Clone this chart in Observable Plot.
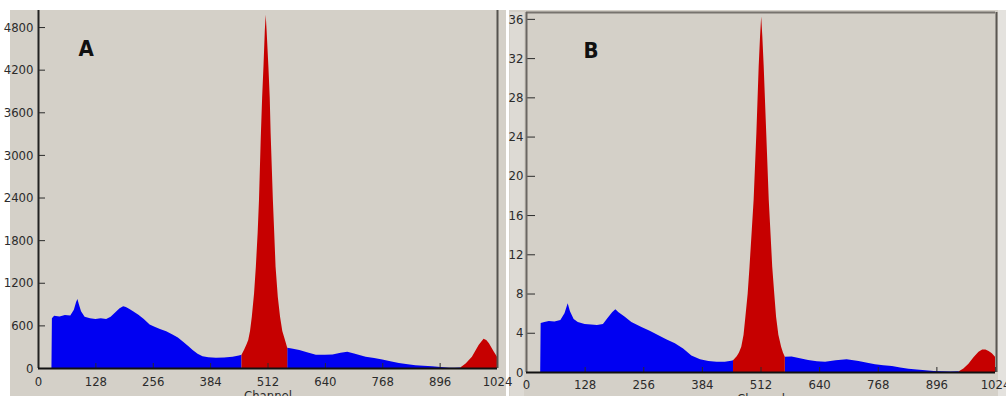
<!DOCTYPE html>
<html><head><meta charset="utf-8">
<script src="https://cdn.jsdelivr.net/npm/d3@7"></script>
<script src="https://cdn.jsdelivr.net/npm/@observablehq/plot@0.6"></script>
<style>
body{margin:0;background:#fff;width:1006px;height:396px;overflow:hidden;position:relative;font-family:"Liberation Sans Narrow","DejaVu Sans Condensed","Liberation Sans",Arial,sans-serif}
.bg{position:absolute}
#a,#b{position:absolute;top:0}
#a{left:0;z-index:2}
#b{left:500px;z-index:1}
</style></head><body>
<div class="bg" style="left:10px;top:10px;width:496px;height:386px;background:#d4d0c8"></div>
<div class="bg" style="left:509px;top:10px;width:497px;height:386px;background:#d4d0c8"></div>
<div class="bg" style="left:510px;top:12px;width:14px;height:384px;background:#dddad4"></div>
<div class="bg" style="left:998px;top:10px;width:8px;height:386px;background:#e4e2de"></div>
<div id="a"></div><div id="b"></div>
<script>
const channelTicks = [0,128,256,384,512,640,768,896,1024];
const countTicksA = [0,600,1200,1800,2400,3000,3600,4200,4800];
const countTicksB = [0,4,8,12,16,20,24,28,32,36];
const panelLabels = ["A","B"];
const xLabel = "Channel";

// Panel A: [channel, count]
const aBlueLow = [[30,0],[31,700],[36,735],[48,725],[60,745],[72,740],[80,820],[85,930],[88,970],[91,900],[96,800],[104,720],[116,700],[128,690],[140,700],[152,690],[162,720],[172,780],[182,840],[190,870],[196,860],[204,830],[212,800],[224,750],[236,690],[249,612],[260,580],[272,550],[286,516],[300,470],[312,430],[323,373],[335,310],[345,253],[356,200],[367,167],[380,150],[397,143],[415,148],[434,158],[448,175],[454,185]];
const aRedMain = [[454,185],[460,260],[465,330],[469,394],[473,520],[477,723],[482,1050],[486,1427],[490,1900],[493,2366],[497,3250],[500,3800],[503,4244],[506,4750],[508,4972],[510,4750],[514,4244],[517,3800],[519,3306],[524,2366],[527,1900],[530,1427],[535,1000],[540,723],[545,520],[551,394],[556,285]];
const aBlueHigh = [[556,285],[566,275],[583,253],[600,220],[620,185],[640,185],[657,191],[675,215],[690,230],[705,205],[731,158],[750,140],[768,120],[786,95],[805,72],[825,52],[842,38],[860,30],[879,24],[898,14],[917,5],[930,3],[942,6]];
const aRedHigh = [[942,6],[954,62],[968,158],[983,325],[994,411],[1000,395],[1006,349],[1017,230],[1024,158]];

// Panel B: [channel, count]
const bBlueLow = [[31,0],[32,5.0],[40,5.1],[50,5.2],[62,5.15],[75,5.3],[84,6.0],[91,7.0],[96,6.2],[104,5.4],[113,5.1],[128,4.9],[142,4.85],[155,4.8],[168,4.9],[178,5.5],[188,6.1],[195,6.4],[202,6.1],[215,5.65],[230,5.1],[252,4.6],[270,4.2],[288,3.78],[306,3.35],[325,2.93],[343,2.4],[361,1.67],[380,1.3],[398,1.12],[416,1.05],[434,1.05],[448,1.15],[452,1.2]];
const bRedMain = [[452,1.2],[460,1.6],[465,2.0],[470,2.58],[475,3.8],[479,5.64],[484,8.0],[488,10.74],[493,14.5],[497,17.55],[503,24.36],[508,31.15],[511,34.2],[513.5,36.25],[516,34.2],[519,31.15],[524.5,24.36],[530,17.55],[534,14.0],[537.6,10.74],[542,8.0],[546,5.64],[551,3.8],[557,2.58],[561,2.0],[565,1.56]];
const bBlueHigh = [[565,1.56],[580,1.58],[598,1.4],[616,1.22],[635,1.1],[653,1.05],[676,1.2],[700,1.3],[726,1.13],[745,0.95],[762,0.8],[780,0.7],[799,0.6],[817,0.45],[835,0.34],[853,0.25],[872,0.17],[890,0.1],[908,0.07],[927,0.06],[945,0.07]];
const bRedHigh = [[945,0.07],[955,0.35],[966,0.85],[977,1.5],[988,2.07],[996,2.3],[1003,2.3],[1010,2.15],[1017,1.9],[1024,1.56]];

const BLUE = "#0000f2", RED = "#c60000", INK = "#2b2b2b";

function panel(o) {
  const plotW = o.width - o.ml - o.mr, plotH = o.height - o.mt - o.mb;
  const area = (d, fill) => Plot.areaY(d, {x: p => p[0], y: p => p[1], fill});
  const marks = [
    ...o.blue.map(d => area(d, BLUE)),
    ...o.red.map(d => area(d, RED)),
    Plot.ruleX(channelTicks, {stroke: INK, strokeWidth: 1, insetTop: plotH - 5}),
    Plot.ruleY(o.ticks, {stroke: INK, strokeWidth: 1, insetRight: plotW - o.tickLen}),
    Plot.axisX({ticks: channelTicks, tickSize: 0, tickPadding: o.padX, tickFormat: "d", fontSize: 13, fill: INK}),
    Plot.axisY({ticks: o.ticks, tickSize: 0, tickPadding: o.padY, tickFormat: "d", fontSize: 13, fill: INK}),
  ];
  if (o.frame) {
    marks.push(Plot.ruleY([o.yMax], {stroke: "#77736e", strokeWidth: 2}));
    marks.push(Plot.ruleX([1024], {stroke: "#5a5652", strokeWidth: 2, dx: 1}));
    marks.push(Plot.ruleX([0], {stroke: "#6a6662", strokeWidth: 2}));
  } else {
    marks.push(Plot.ruleX([1024], {stroke: "#55524e", strokeWidth: 2}));
    marks.push(Plot.ruleX([0], {stroke: "#222", strokeWidth: 2}));
  }
  marks.push(Plot.ruleY([0], {stroke: "#111", strokeWidth: 2}));
  marks.push(Plot.text([o.label], {frameAnchor: "top-left", dx: o.labelDx, dy: 30, lineAnchor: "top", textAnchor: "start", fontSize: 22, fontWeight: "bold", fill: "#111"}));
  marks.push(Plot.text([xLabel], {frameAnchor: "bottom", dy: o.chDy, lineAnchor: "top", fontSize: 13, fill: INK}));
  return Plot.plot({
    width: o.width, height: o.height,
    marginLeft: o.ml, marginRight: o.mr, marginTop: o.mt, marginBottom: o.mb,
    x: {domain: [0, 1024], label: null},
    y: {domain: [0, o.yMax], label: null},
    style: {background: "transparent", fontFamily: '"Liberation Sans Narrow","DejaVu Sans Condensed","Liberation Sans",Arial,sans-serif', overflow: "visible"},
    marks
  });
}

document.getElementById("a").append(panel({
  width: 500, height: 396, ml: 38, mr: 3, mt: 10, mb: 28,
  yMax: 5040, ticks: countTicksA, tickLen: 7, padX: 8, padY: 5,
  blue: [aBlueLow, aBlueHigh], red: [aRedMain, aRedHigh],
  label: panelLabels[0], labelDx: 40, chDy: 22, frame: false
}));
document.getElementById("b").append(panel({
  width: 506, height: 396, ml: 26, mr: 11, mt: 12, mb: 24,
  yMax: 36.7, ticks: countTicksB, tickLen: 9, padX: 7, padY: 3,
  blue: [bBlueLow, bBlueHigh], red: [bRedMain, bRedHigh],
  label: panelLabels[1], labelDx: 57, chDy: 21, frame: true
}));
</script>
</body></html>
